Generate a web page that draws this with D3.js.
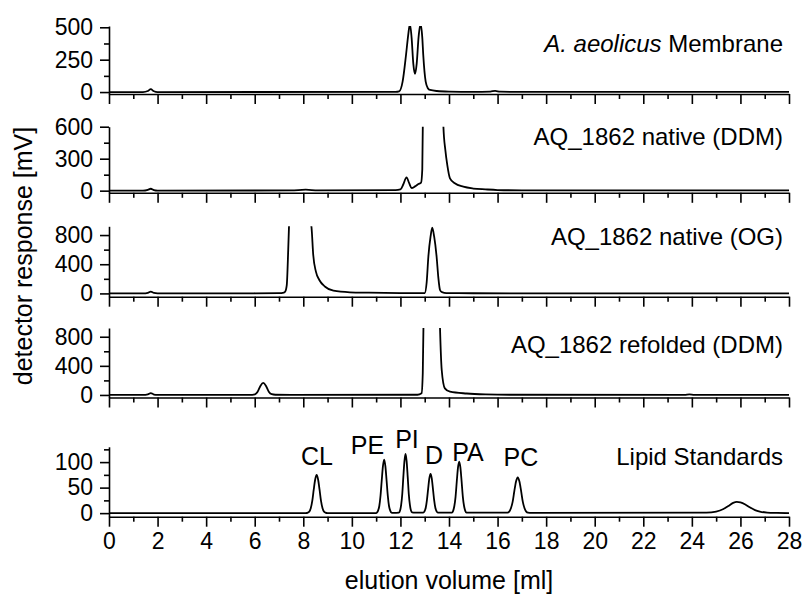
<!DOCTYPE html>
<html>
<head>
<meta charset="utf-8">
<script src="https://cdn.jsdelivr.net/npm/d3@7"></script>
<style>
  body { margin: 0; background: #fff; }
  svg text { font-family: "Liberation Sans", Arial, sans-serif; fill: #000; }
</style>
</head>
<body>
<div id="chart"></div>
<script>
// Traces: [elution volume (ml), response (mV)]
const membrane = [
  [0, 0], [1.4, 0], [1.6, 8], [1.72, 22], [1.85, 6], [2.0, 0], [11.8, 1], [11.95, 5],
  [12.09, 80], [12.23, 286], [12.32, 440], [12.39, 525], [12.46, 420], [12.53, 220],
  [12.6, 140], [12.67, 220], [12.75, 430], [12.83, 525], [12.9, 420], [12.94, 286],
  [13.04, 80], [13.13, 30], [13.22, 16], [13.5, 8], [14, 4], [15, 2], [15.7, 4],
  [15.9, 9], [16.1, 3], [17, 1], [28, 1]
];
const nativeDDM = [
  [0, 0], [1.4, 0], [1.6, 8], [1.72, 18], [1.85, 5], [2.0, 0], [7.5, 2], [8.1, 9],
  [8.6, 2], [11.8, 5], [12.0, 12], [12.12, 60], [12.25, 125], [12.36, 70], [12.46, 25],
  [12.6, 40], [12.74, 62], [12.85, 75], [12.9, 200], [12.95, 1200], [13.3, 3000],
  [13.7, 1200], [13.77, 600], [13.85, 380], [13.93, 240], [14.04, 116], [14.24, 69],
  [14.59, 37], [15, 20], [15.5, 12], [16, 6], [17, 3], [28, 2]
];
const nativeOG = [
  [0, 0], [1.4, 0], [1.6, 8], [1.72, 25], [1.85, 6], [2.0, 0], [7.0, 3], [7.2, 12],
  [7.25, 23], [7.32, 115], [7.38, 600], [7.42, 1000], [7.9, 3000], [8.3, 1000],
  [8.34, 900], [8.41, 527], [8.52, 298], [8.66, 184], [8.9, 92], [9.24, 37], [9.92, 15],
  [10.7, 10], [12.0, 5], [12.9, 3], [13.0, 5], [13.08, 150], [13.15, 503], [13.24, 777],
  [13.31, 900], [13.39, 777], [13.49, 503], [13.56, 220], [13.63, 47], [13.7, 18],
  [13.8, 8], [14, 4], [15, 2], [28, 1]
];
const refoldedDDM = [
  [0, 0], [1.4, 0], [1.6, 8], [1.72, 25], [1.85, 6], [2.0, 0], [5.9, 2], [6.01, 8],
  [6.12, 45], [6.23, 120], [6.35, 165], [6.47, 120], [6.58, 45], [6.7, 10], [6.85, 3],
  [7.5, 2], [12.7, 3], [12.87, 23], [12.92, 300], [12.96, 1200], [13.3, 3000],
  [13.6, 1300], [13.63, 920], [13.7, 343], [13.83, 91], [14.04, 45], [14.73, 20],
  [15.5, 8], [16.5, 3], [23.7, 2], [23.9, 8], [24.1, 2], [28, 1]
];
const lipidStandards = [
  [0, 0], [8.1, 0], [8.19, 1], [8.25, 3], [8.31, 10], [8.37, 24], [8.43, 46], [8.49, 66],
  [8.55, 75], [8.61, 66], [8.67, 46], [8.73, 24], [8.79, 10], [8.85, 3], [8.91, 1], [9.0, 0],
  [11.0, 0], [11.03, 1], [11.08, 5], [11.13, 14], [11.18, 34], [11.23, 64], [11.28, 92],
  [11.33, 105], [11.38, 92], [11.43, 64], [11.48, 34], [11.53, 14], [11.58, 5], [11.63, 1],
  [11.7, 0.5], [11.94, 1], [11.985, 5], [12.03, 16], [12.075, 37], [12.12, 71], [12.165, 102],
  [12.21, 116], [12.255, 102], [12.3, 71], [12.345, 37], [12.39, 16], [12.435, 5], [12.48, 1.5],
  [12.6, 1], [12.94, 1], [12.99, 3.5], [13.04, 10], [13.09, 25], [13.14, 47], [13.19, 68],
  [13.24, 77], [13.29, 68], [13.34, 47], [13.39, 25], [13.44, 10], [13.49, 3.5], [13.54, 1],
  [14.12, 1], [14.17, 4.5], [14.22, 14], [14.27, 32], [14.32, 62], [14.37, 89], [14.42, 101],
  [14.47, 89], [14.52, 62], [14.57, 32], [14.62, 14], [14.67, 4.5], [14.72, 1],
  [16.41, 1], [16.48, 3], [16.55, 9.5], [16.62, 22], [16.69, 43], [16.76, 62], [16.83, 70],
  [16.9, 62], [16.97, 43], [17.04, 22], [17.11, 9.5], [17.18, 3], [17.25, 1], [17.4, 0.5],
  [24.6, 1], [25.0, 3], [25.3, 8], [25.5, 14], [25.7, 20], [25.85, 22], [26.0, 21],
  [26.2, 17], [26.4, 11], [26.6, 6], [26.8, 3], [27.1, 1], [27.5, 0.3], [28, 0]
];

const traces = [membrane, nativeDDM, nativeOG, refoldedDDM, lipidStandards];
const panelNames = ["Membrane", "AQ_1862 native (DDM)", "AQ_1862 native (OG)", "AQ_1862 refolded (DDM)", "Lipid Standards"];
const yDomains = [[-15, 510], [-20, 600], [-45, 920], [-35, 920], [-7, 130]];
const yMajor = [[0, 250, 500], [0, 300, 600], [0, 400, 800], [0, 400, 800], [0, 50, 100]];
const yMinor = [[125, 375], [150, 450], [200, 600], [200, 600], [25, 75, 125]];
const xMajor = d3.range(0, 29, 2);
const xMinor = d3.range(1, 28, 2);

// peak names in the lipid standard run, placed at [ml, mV]
const peakNames = ["CL", "PE", "PI", "D", "PA", "PC"];
const peakPos = [[8.56, 94], [10.64, 115], [12.27, 127], [13.38, 96], [14.78, 103], [16.96, 92]];

// Layout
const W = 804, H = 596;
const left = 109, right = 789;
// pixel [bottom axis line, top of y axis] for each panel
const panelPx = [[94, 26], [192.8, 126.7], [296.7, 226.3], [397.5, 328], [516.7, 446.8]];
const labelBaseline = [52, 145, 245, 353, 465];

const svg = d3.select("#chart").append("svg")
  .attr("width", W)
  .attr("height", H);

const x = d3.scaleLinear().domain([0, 28]).range([left, right]);

const line = d3.line()
  .curve(d3.curveMonotoneX);

traces.forEach((data, i) => {
  const y = d3.scaleLinear().domain(yDomains[i]).range(panelPx[i]);
  const g = svg.append("g").attr("class", "panel");

  // clip so off-scale peaks stop at the top of the axis
  svg.append("clipPath").attr("id", "clip" + i)
    .append("rect")
    .attr("x", left).attr("y", panelPx[i][1])
    .attr("width", right - left).attr("height", panelPx[i][0] - panelPx[i][1]);

  g.append("path")
    .datum(data)
    .attr("clip-path", `url(#clip${i})`)
    .attr("fill", "none")
    .attr("stroke", "#000")
    .attr("stroke-width", 1.8)
    .attr("stroke-linejoin", "round")
    .attr("d", line.x(d => x(d[0])).y(d => y(d[1])));

  // x axis (labels only on the bottom panel)
  const xa = g.append("g").attr("transform", `translate(0,${panelPx[i][0]})`);
  xa.call(d3.axisBottom(x).tickValues(xMajor).tickSize(10).tickSizeOuter(0).tickPadding(6)
    .tickFormat(i === traces.length - 1 ? d3.format("d") : ""));
  xa.append("g").call(d3.axisBottom(x).tickValues(xMinor).tickSize(5).tickFormat(""))
    .select(".domain").remove();

  // y axis
  const ya = g.append("g").attr("transform", `translate(${left},0)`);
  ya.call(d3.axisLeft(y).tickValues(yMajor[i]).tickSize(9).tickSizeOuter(0).tickPadding(7));
  ya.append("g").call(d3.axisLeft(y).tickValues(yMinor[i]).tickSize(5).tickFormat(""))
    .select(".domain").remove();

  g.selectAll(".domain, .tick line").attr("stroke", "#000").attr("stroke-width", 1.6);
  g.selectAll(".tick text").style("font-size", "23px").attr("fill", "#000");

  // panel title
  const t = g.append("text")
    .attr("x", 783)
    .attr("y", labelBaseline[i])
    .attr("text-anchor", "end")
    .style("font-size", "24px");
  if (i === 0) {
    t.append("tspan").style("font-style", "italic").text("A. aeolicus");
    t.append("tspan").text(" " + panelNames[i]);
  } else {
    t.text(panelNames[i]);
  }

  if (i === traces.length - 1) {
    g.selectAll(".peak")
      .data(peakNames)
      .enter()
      .append("text")
      .attr("class", "peak")
      .attr("x", (d, j) => x(peakPos[j][0]))
      .attr("y", (d, j) => y(peakPos[j][1]))
      .attr("text-anchor", "middle")
      .style("font-size", "25px")
      .text(d => d);
  }
});

// axis titles
svg.append("text")
  .attr("x", (left + right) / 2)
  .attr("y", 589)
  .attr("text-anchor", "middle")
  .style("font-size", "25px")
  .text("elution volume [ml]");

svg.append("text")
  .attr("transform", "translate(32,256) rotate(-90)")
  .attr("text-anchor", "middle")
  .style("font-size", "25px")
  .text("detector response [mV]");
</script>
</body>
</html>
